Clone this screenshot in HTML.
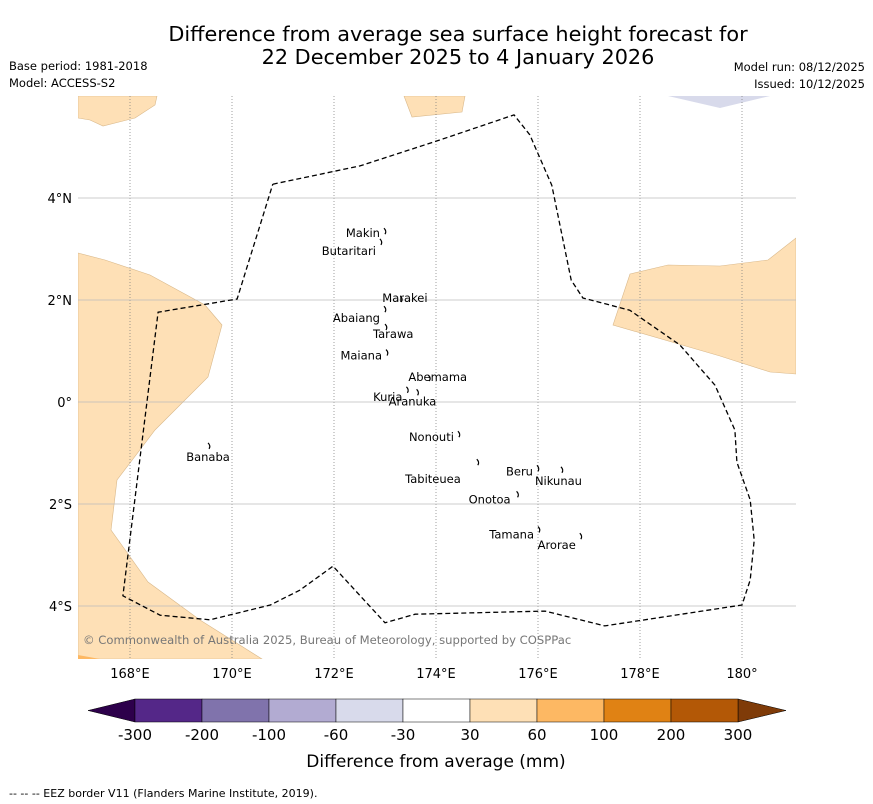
<!DOCTYPE html>
<html><head><meta charset="utf-8"><style>
body{margin:0;background:#fff;font-family:"DejaVu Sans","Liberation Sans",sans-serif;}
svg{display:block}
</style></head><body>
<svg width="873" height="804" viewBox="0 0 873 804">
<text x="458" y="41" font-size="20.8" text-anchor="middle">Difference from average sea surface height forecast for</text>
<text x="458" y="64" font-size="20.8" text-anchor="middle">22 December 2025 to 4 January 2026</text>
<text x="9" y="70" font-size="11.5">Base period: 1981-2018</text>
<text x="9" y="87" font-size="11.5">Model: ACCESS-S2</text>
<text x="865" y="71" font-size="11.5" text-anchor="end">Model run: 08/12/2025</text>
<text x="865" y="88" font-size="11.5" text-anchor="end">Issued: 10/12/2025</text>
<defs><clipPath id="mc"><rect x="78" y="96" width="718" height="563"/></clipPath></defs>
<g clip-path="url(#mc)">
<g fill="#fee0b6" stroke="#d9b88a" stroke-width="0.6">
<polygon points="78,253 105,260 150,275 205,305 222,325 208,377 155,430 117,480 111,530 148,582 200,620 262,659 78,659"/>
<polygon points="630,274 668,265 720,266 768,260 796,238 796,374 770,372 720,356 613,325"/>
<polygon points="78,96 157,96 155,105 135,118 103,126 90,120 78,118"/>
<polygon points="404,96 465,96 462,112 412,117"/>
</g>
<polygon points="668,96 770,96 720,108" fill="#d8daeb"/>
<polygon points="78,655 100,659 78,659" fill="#fdb863"/>
<g id="grid"></g>
<path id="eez" fill="none" stroke="#000" stroke-width="1.3" stroke-dasharray="5,3"/>
<g id="isl"></g>
</g>
<text x="83" y="644" font-size="11.6" fill="#777">© Commonwealth of Australia 2025, Bureau of Meteorology, supported by COSPPac</text>
<g id="ticks" font-size="13"></g>
<g id="cbar"></g>
<text x="436" y="767" font-size="17" text-anchor="middle">Difference from average (mm)</text>
<text x="9" y="797" font-size="11">--  --  -- EEZ border V11 (Flanders Marine Institute, 2019).</text>
</svg>
<script>
const lonTicks=[168,170,172,174,176,178,180];
const lonLabels=["168°E","170°E","172°E","174°E","176°E","178°E","180°"];
const latTicks=[4,2,0,-2,-4];
const latLabels=["4°N","2°N","0°","2°S","4°S"];
const eezLon=[170.80,172.51,174.08,175.53,175.84,176.27,176.65,176.88,177.80,178.78,179.47,179.86,179.90,180.16,180.24,180.16,180.00,177.31,176.14,173.59,173.00,171.98,171.33,170.75,169.57,168.59,167.86,168.55,170.10,170.80];
const eezLat=[4.27,4.63,5.14,5.63,5.24,4.25,2.39,2.04,1.80,1.12,0.33,-0.55,-1.18,-1.92,-2.71,-3.49,-3.98,-4.39,-4.10,-4.16,-4.33,-3.22,-3.69,-3.98,-4.27,-4.18,-3.80,1.76,2.02,4.27];
const islandNames=["Makin","Butaritari","Marakei","Abaiang","Tarawa","Maiana","Abemama","Kuria","Aranuka","Banaba","Nonouti","Tabiteuea","Beru","Nikunau","Onotoa","Tamana","Arorae"];
const islandLon=[172.98,172.90,173.30,172.98,173.00,173.02,173.85,173.42,173.62,169.53,174.43,174.80,175.98,176.45,175.58,176.00,176.82];
const islandLat=[3.33,3.12,2.00,1.80,1.45,0.95,0.45,0.22,0.17,-0.88,-0.65,-1.20,-1.32,-1.35,-1.83,-2.52,-2.65];
const labelDx=[-4,-4,-18,-4,-12,-4,-20,-4,-28,0,-4,-16,-4,-26,-6,-4,-4];
const labelDy=[5,12,2,12,10,6,2,10,12,14,6,20,6,14,8,8,12];
const labelAnchor=["end","end","start","end","start","end","start","end","start","middle","end","end","end","start","end","end","end"];
const cbBounds=["-300","-200","-100","-60","-30","30","60","100","200","300"];
const cbColors=["#542788","#8073ac","#b2abd2","#d8daeb","#ffffff","#fee0b6","#fdb863","#e08214","#b35806"];
const cbLow="#2d004b",cbHigh="#7f3b08";
const NS="http://www.w3.org/2000/svg";
const X=lon=>79+(lon-167)*51, Y=lat=>402-lat*51;
function mk(t,a,p){const e=document.createElementNS(NS,t);for(const k in a)e.setAttribute(k,a[k]);p.appendChild(e);return e;}
const grid=document.getElementById('grid'),ticks=document.getElementById('ticks');
lonTicks.forEach((v,i)=>{
 const l=mk('line',{x1:X(v),x2:X(v),y1:96,y2:659,stroke:'#777','stroke-width':0.7,'stroke-dasharray':'1,2'},grid);
 
 
 const t=mk('text',{x:X(v),y:678,'text-anchor':'middle'},ticks);t.textContent=lonLabels[i];
 
 
});
latTicks.forEach((v,i)=>{
 const l=mk('line',{x1:78,x2:796,y1:Y(v),y2:Y(v),stroke:'#bbb','stroke-width':0.8},grid);
 
 
 const t=mk('text',{x:72,y:Y(v)+5,'text-anchor':'end'},ticks);t.textContent=latLabels[i];
 
 
});
document.getElementById('eez').setAttribute('d',eezLon.map((v,i)=>(i?'L':'M')+X(v).toFixed(1)+','+Y(eezLat[i]).toFixed(1)).join(''));
const isl=document.getElementById('isl');
islandNames.forEach((n,i)=>{
 const x=X(islandLon[i]),y=Y(islandLat[i]);
 const p=mk('path',{d:`M${x},${y-4} q3,3 1,6`,fill:'none',stroke:'#000','stroke-width':1.2},isl);
 
 
 const t=mk('text',{x:x+labelDx[i],y:y+labelDy[i],'font-size':11.5,'text-anchor':labelAnchor[i]},isl);t.textContent=n;
 
 
});
const cb=document.getElementById('cbar');const x0=135,x1=738,w=(x1-x0)/cbColors.length,y0=699,h=23;
let tri=mk('polygon',{points:`${x0},${y0} ${x0},${y0+h} 88,${y0+h/2}`,fill:cbLow,stroke:'#000','stroke-width':0.5},cb);


tri=mk('polygon',{points:`${x1},${y0} ${x1},${y0+h} 786,${y0+h/2}`,fill:cbHigh,stroke:'#000','stroke-width':0.5},cb);


cbColors.forEach((c,i)=>{const r=mk('rect',{x:x0+i*w,y:y0,width:w,height:h,fill:c,stroke:'#000','stroke-width':0.5},cb);
 
 });
cbBounds.forEach((b,i)=>{const t=mk('text',{x:x0+i*w,y:740,'font-size':15,'text-anchor':'middle'},cb);t.textContent=b;
 
 });
</script>
</body></html>
